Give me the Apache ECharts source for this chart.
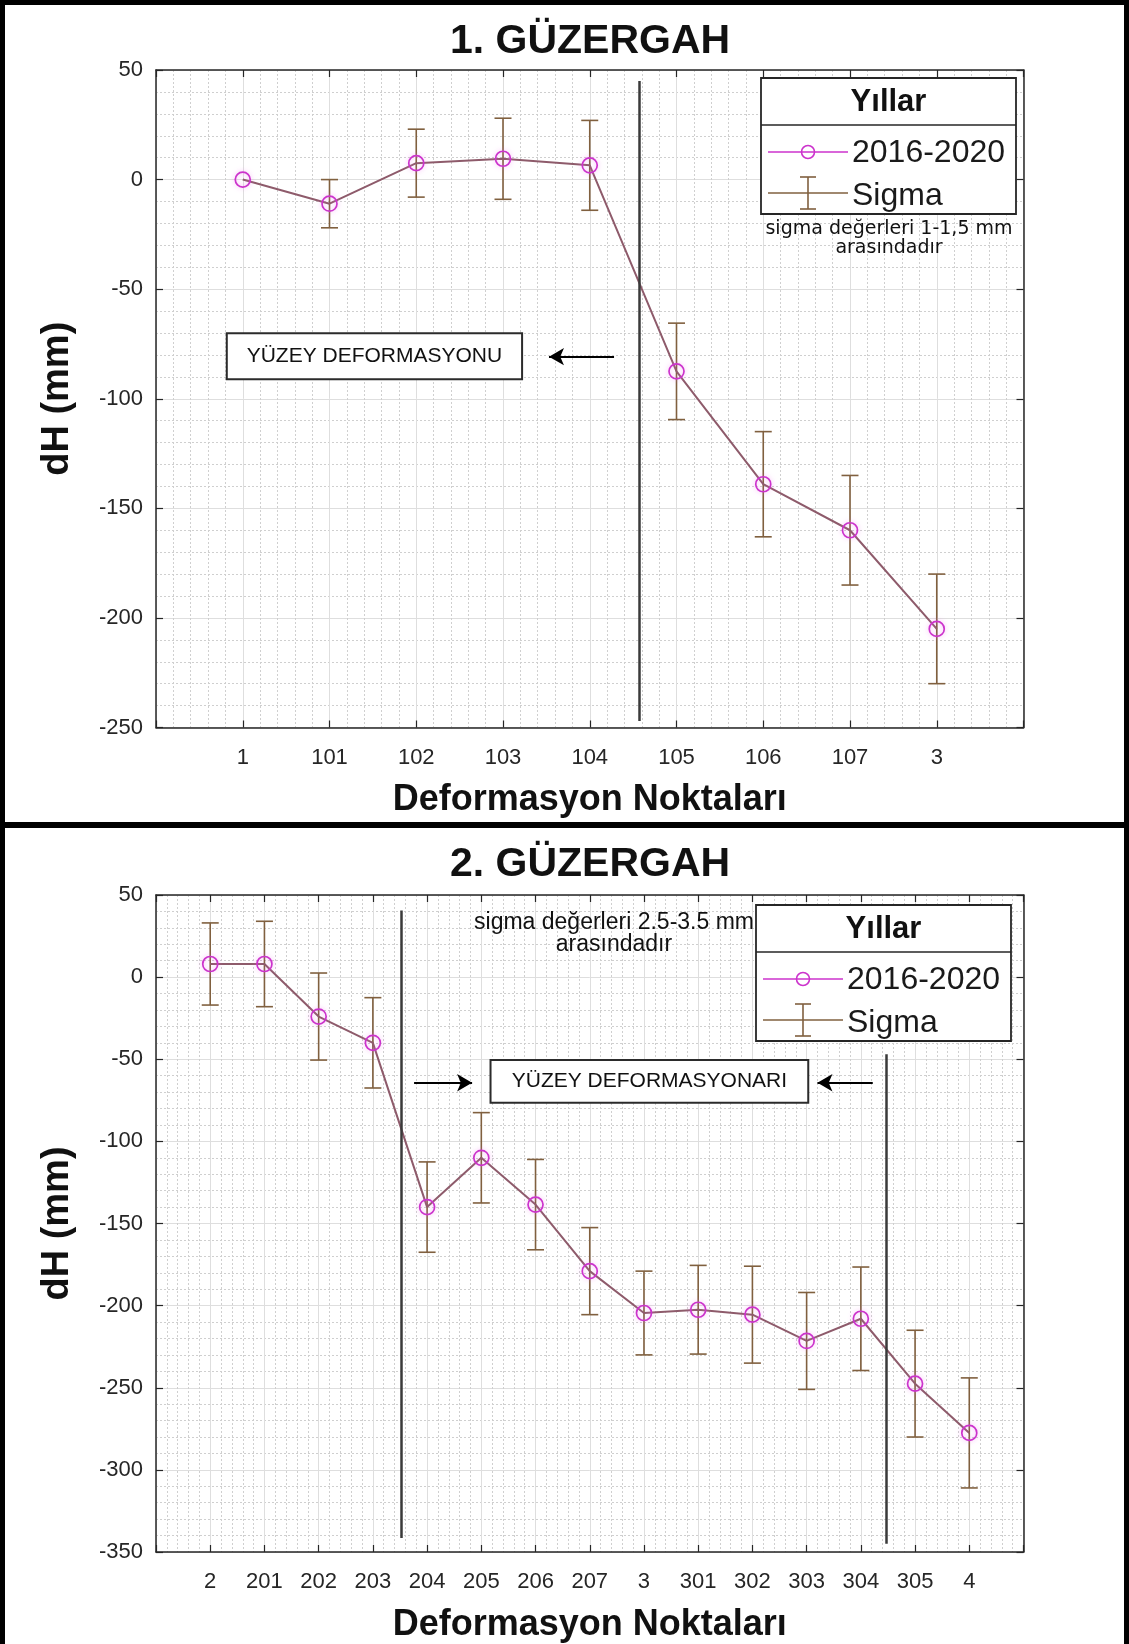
<!DOCTYPE html>
<html>
<head>
<meta charset="utf-8">
<script src="https://cdn.jsdelivr.net/npm/echarts@6/dist/echarts.min.js"></script>
<style>
  html, body { margin: 0; padding: 0; background: #fff; }
  #chart { width: 1129px; height: 1644px; }
</style>
</head>
<body>
<div id="chart"></div>
<script>
// Route 1: deformation points, height change (mm) and sigma
const cats1 = ['1', '101', '102', '103', '104', '105', '106', '107', '3'];
const dh1 = [0, -11, 7.5, 9.5, 6.5, -87.5, -139, -160, -205];
const sigma1 = [0, 11, 15.5, 18.5, 20.5, 22, 24, 25, 25];

// Route 2
const cats2 = ['2', '201', '202', '203', '204', '205', '206', '207', '3', '301', '302', '303', '304', '305', '4'];
const dh2 = [8, 8, -24, -40, -140, -110, -138.5, -179, -204.5, -202.5, -205.5, -221.5, -208, -247.5, -277.5];
const sigma2 = [25, 26, 26.5, 27.5, 27.5, 27.5, 27.5, 26.5, 25.5, 27, 29.5, 29.5, 31.5, 32.5, 33.5];

const FONT = '"Liberation Sans", Arial, sans-serif';
const AXIS_COLOR = '#262626';
const LINE_COLOR = '#8e5b6b';
const MARK_COLOR = '#cc33cc';
const ERR_COLOR = '#80603f';

const chart = echarts.init(document.getElementById('chart'), null, { renderer: 'canvas' });

function errorBarItem(params, api) {
  const x = api.value(0);
  const lo = api.value(1);
  const hi = api.value(2);
  if (!(hi - lo > 0)) return { type: 'group', children: [] };
  const pHi = api.coord([x, hi]);
  const pLo = api.coord([x, lo]);
  const half = 8.5;
  const style = { stroke: ERR_COLOR, lineWidth: 1.6, fill: null };
  return {
    type: 'group',
    children: [
      { type: 'line', shape: { x1: pHi[0], y1: pHi[1], x2: pLo[0], y2: pLo[1] }, style },
      { type: 'line', shape: { x1: pHi[0] - half, y1: pHi[1], x2: pHi[0] + half, y2: pHi[1] }, style },
      { type: 'line', shape: { x1: pLo[0] - half, y1: pLo[1], x2: pLo[0] + half, y2: pLo[1] }, style }
    ]
  };
}

function xAxes(gridIndex, cats) {
  const common = {
    type: 'value', gridIndex, min: 0, max: cats.length + 1, interval: 1,
    axisLine: { show: true, onZero: false, lineStyle: { color: AXIS_COLOR, width: 1.5 } },
    axisTick: { show: true, inside: true, length: 7, lineStyle: { color: AXIS_COLOR, width: 1.2 } }
  };
  return [
    Object.assign({}, common, {
      position: 'bottom',
      axisLabel: {
        show: true, margin: 19, fontSize: 22, fontFamily: FONT, color: AXIS_COLOR,
        formatter: v => cats[Math.round(v) - 1] || ''
      },
      splitLine: { show: true, lineStyle: { color: '#dedede', width: 1 } },
      minorTick: { show: false, splitNumber: 5 },
      minorSplitLine: { show: true, lineStyle: { color: '#cfcfcf', width: 1, type: [2, 2] } },
      name: 'Deformasyon Noktaları',
      nameLocation: 'middle',
      nameGap: 55,
      nameTextStyle: { fontSize: 36, fontWeight: 'bold', fontFamily: FONT, color: '#111' }
    }),
    Object.assign({}, common, {
      position: 'top',
      axisLabel: { show: false },
      splitLine: { show: false }
    })
  ];
}

function yAxes(gridIndex, min, max) {
  const common = {
    type: 'value', gridIndex, min, max, interval: 50,
    axisLine: { show: true, onZero: false, lineStyle: { color: AXIS_COLOR, width: 1.5 } },
    axisTick: { show: true, inside: true, length: 7, lineStyle: { color: AXIS_COLOR, width: 1.2 } }
  };
  return [
    Object.assign({}, common, {
      position: 'left',
      axisLabel: { show: true, margin: 13, fontSize: 22, fontFamily: FONT, color: AXIS_COLOR },
      splitLine: { show: true, lineStyle: { color: '#dedede', width: 1 } },
      minorTick: { show: false, splitNumber: 5 },
      minorSplitLine: { show: true, lineStyle: { color: '#cfcfcf', width: 1, type: [2, 2] } },
      name: 'dH (mm)',
      nameLocation: 'middle',
      nameRotate: 90,
      nameGap: 79,
      nameTextStyle: { fontSize: 38, fontWeight: 'bold', fontFamily: FONT, color: '#111' }
    }),
    Object.assign({}, common, {
      position: 'right',
      axisLabel: { show: false },
      splitLine: { show: false }
    })
  ];
}

function errData(vals, sig) {
  return vals.map((v, i) => [i + 1, v - sig[i], v + sig[i]]);
}
function lineData(vals) {
  return vals.map((v, i) => [i + 1, v]);
}

const boxStyle = { color: '#ffffff', borderColor: '#2b2b2b', borderWidth: 2 };
const boxLabel = { show: true, position: 'inside', color: '#111', fontSize: 21, fontFamily: FONT };
const sepLine = { color: '#3a3a3a', width: 2.5, type: 'solid' };
const arrowLine = { color: '#000', width: 2, type: 'solid' };

function lineSeries(xi, yi, vals, marks) {
  return {
    type: 'line', xAxisIndex: xi, yAxisIndex: yi, z: 4,
    data: lineData(vals),
    symbol: 'circle', symbolSize: 15,
    lineStyle: { color: LINE_COLOR, width: 2 },
    itemStyle: {
      color: 'rgba(255,255,255,0)', borderColor: MARK_COLOR, borderWidth: 1.7,
      shadowColor: 'rgba(240,110,240,0.55)', shadowBlur: 5
    },
    emphasis: { disabled: true },
    markArea: { silent: true, itemStyle: boxStyle, label: boxLabel, data: marks.areas },
    markLine: { silent: true, symbol: 'none', label: { show: false }, data: marks.lines }
  };
}

function arrow(x1, x2, y) {
  return [
    { coord: [x1, y], symbol: 'none', lineStyle: arrowLine },
    { coord: [x2, y], symbol: 'arrow', symbolSize: [13, 15] }
  ];
}
function divider(x, y1, y2) {
  return [{ coord: [x, y1], symbol: 'none', lineStyle: sepLine }, { coord: [x, y2], symbol: 'none' }];
}

// Legend block with title "Yıllar"
function legendBlock(x, y) {
  const w = 255, h = 136, sep = 47;
  const cx = x + 47;
  const y1 = y + 74, y2 = y + 115;
  const st = { stroke: AXIS_COLOR, lineWidth: 1.6 };
  return [
    { type: 'rect', z: 100, shape: { x, y, width: w, height: h }, style: { fill: '#fff', stroke: AXIS_COLOR, lineWidth: 1.8 } },
    { type: 'line', z: 101, shape: { x1: x, y1: y + sep, x2: x + w, y2: y + sep }, style: st },
    { type: 'text', z: 101, x: x + w / 2, y: y + sep / 2 + 1, style: { text: 'Yıllar', fontSize: 31, fontWeight: 'bold', fontFamily: FONT, fill: '#111', align: 'center', verticalAlign: 'middle' } },
    { type: 'line', z: 101, shape: { x1: x + 7, y1: y1, x2: x + 87, y2: y1 }, style: { stroke: MARK_COLOR, lineWidth: 1.6 } },
    { type: 'circle', z: 101, shape: { cx, cy: y1, r: 6.5 }, style: { stroke: MARK_COLOR, fill: 'none', lineWidth: 1.6 } },
    { type: 'text', z: 101, x: x + 91, y: y1 + 1, style: { text: '2016-2020', fontSize: 32, fontFamily: FONT, fill: '#1a1a1a', align: 'left', verticalAlign: 'middle' } },
    { type: 'line', z: 101, shape: { x1: x + 7, y1: y2, x2: x + 87, y2: y2 }, style: { stroke: ERR_COLOR, lineWidth: 1.6 } },
    { type: 'line', z: 101, shape: { x1: cx, y1: y2 - 16, x2: cx, y2: y2 + 16 }, style: { stroke: ERR_COLOR, lineWidth: 1.6 } },
    { type: 'line', z: 101, shape: { x1: cx - 8, y1: y2 - 16, x2: cx + 8, y2: y2 - 16 }, style: { stroke: ERR_COLOR, lineWidth: 1.6 } },
    { type: 'line', z: 101, shape: { x1: cx - 8, y1: y2 + 16, x2: cx + 8, y2: y2 + 16 }, style: { stroke: ERR_COLOR, lineWidth: 1.6 } },
    { type: 'text', z: 101, x: x + 91, y: y2 + 3, style: { text: 'Sigma', fontSize: 32, fontFamily: FONT, fill: '#1a1a1a', align: 'left', verticalAlign: 'middle' } }
  ];
}

function noteText(x, y, text, font, size) {
  return { type: 'text', z: 101, x, y, style: { text, fontSize: size, fontFamily: font, fill: '#111', align: 'center', verticalAlign: 'middle' } };
}

const graphics = [
  // outer frame and the bar between the two panels
  { type: 'rect', z: 120, shape: { x: 0, y: 0, width: 5, height: 1644 }, style: { fill: '#000' } },
  { type: 'rect', z: 120, shape: { x: 0, y: 0, width: 1129, height: 5 }, style: { fill: '#000' } },
  { type: 'rect', z: 120, shape: { x: 1124, y: 0, width: 5, height: 1644 }, style: { fill: '#000' } },
  { type: 'rect', z: 120, shape: { x: 0, y: 822, width: 1129, height: 6 }, style: { fill: '#000' } },
  { type: 'text', z: 101, x: 590, y: 42, style: { text: '1. GÜZERGAH', fontSize: 41, fontWeight: 'bold', fontFamily: FONT, fill: '#111', align: 'center', verticalAlign: 'middle' } },
  { type: 'text', z: 101, x: 590, y: 865, style: { text: '2. GÜZERGAH', fontSize: 41, fontWeight: 'bold', fontFamily: FONT, fill: '#111', align: 'center', verticalAlign: 'middle' } },
  ...legendBlock(761, 78),
  ...legendBlock(756, 905),
  noteText(889, 229, 'sigma değerleri 1-1,5 mm', '"DejaVu Sans", sans-serif', 19),
  noteText(889, 248, 'arasındadır', '"DejaVu Sans", sans-serif', 19),
  noteText(614, 923, 'sigma değerleri 2.5-3.5 mm', FONT, 23),
  noteText(614, 945, 'arasındadır', FONT, 23)
];

const option = {
  animation: false,
  backgroundColor: '#ffffff',
  grid: [
    { left: 156, top: 70, width: 867.5, height: 657.5, show: false },
    { left: 156, top: 895, width: 867.5, height: 657, show: false }
  ],
  xAxis: [...xAxes(0, cats1), ...xAxes(1, cats2)],
  yAxis: [...yAxes(0, -250, 50), ...yAxes(1, -350, 50)],
  series: [
    {
      type: 'custom', xAxisIndex: 0, yAxisIndex: 0, z: 3,
      renderItem: errorBarItem,
      encode: { x: 0, y: [1, 2] },
      data: errData(dh1, sigma1)
    },
    lineSeries(0, 0, dh1, {
      areas: [[{ name: 'YÜZEY DEFORMASYONU', coord: [0.816, -70.1] }, { coord: [4.22, -91.1] }]],
      lines: [divider(5.57, 45, -247), arrow(5.28, 4.53, -80.8)]
    }),
    {
      type: 'custom', xAxisIndex: 2, yAxisIndex: 2, z: 3,
      renderItem: errorBarItem,
      encode: { x: 0, y: [1, 2] },
      data: errData(dh2, sigma2)
    },
    lineSeries(2, 2, dh2, {
      areas: [[{ name: 'YÜZEY DEFORMASYONARI', coord: [6.17, -50.4] }, { coord: [12.03, -76.5] }]],
      lines: [
        divider(4.52, 40.5, -341.5),
        divider(13.46, -47, -345),
        arrow(4.76, 5.83, -64.3),
        arrow(13.22, 12.2, -64.3)
      ]
    })
  ],
  graphic: graphics
};

chart.setOption(option);
</script>
</body>
</html>
